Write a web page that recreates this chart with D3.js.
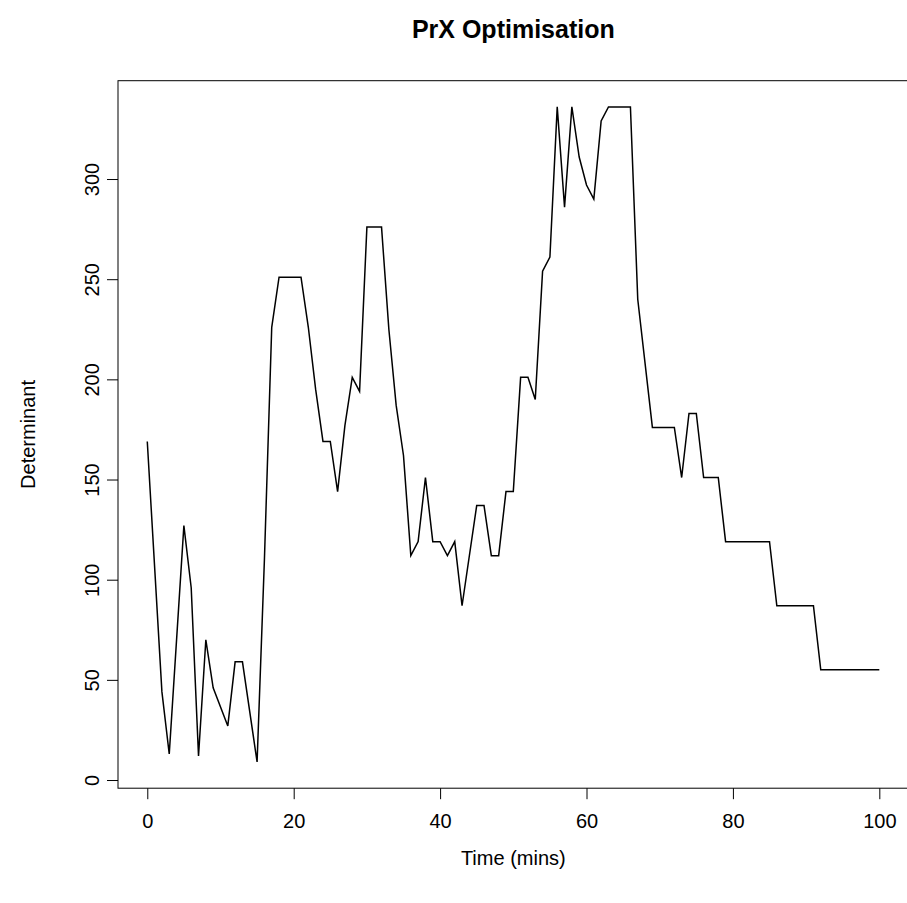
<!DOCTYPE html>
<html>
<head>
<meta charset="utf-8">
<script src="https://cdn.jsdelivr.net/npm/d3@7"></script>
<style>
  html, body { margin: 0; padding: 0; background: #fff; }
  svg text { font-family: "Liberation Sans", Arial, Helvetica, sans-serif; fill: #000; }
</style>
</head>
<body>
<svg id="chart" width="907" height="903"></svg>
<script>
'use strict';

// time (mins) of each vertex
var times = [0, 2, 3, 5, 6, 7, 8, 9, 11, 12,
	13, 15, 16, 17, 18, 21, 22, 23, 24, 25,
	26, 27, 28, 29, 30, 32, 33, 34, 35, 36,
	37, 38, 39, 40, 41, 42, 43, 45, 46, 47,
	48, 49, 50, 51, 52, 53, 54, 55, 56, 57,
	58, 59, 60, 61, 62, 63, 66, 67, 69, 72,
	73, 74, 75, 76, 78, 79, 85, 86, 91, 92,
	100];

// determinant at each vertex
var determinant = [169, 44, 13, 127, 96, 12, 70, 46, 27, 59,
	59, 9, 110, 226, 251, 251, 226, 195, 169, 169,
	144, 177, 201, 194, 276, 276, 225, 187, 162, 112,
	119, 151, 119, 119, 112, 119, 87, 137, 137, 112,
	112, 144, 144, 201, 201, 190, 254, 261, 336, 286,
	336, 311, 297, 290, 329, 336, 336, 240, 176, 176,
	151, 183, 183, 151, 151, 119, 119, 87, 87, 55,
	55];

var xTicks = [0, 20, 40, 60, 80, 100];
var yTicks = [0, 50, 100, 150, 200, 250, 300];

var title = 'PrX Optimisation';
var xLabel = 'Time (mins)';
var yLabel = 'Determinant';

// plot region (pixels)
var box = { left: 118, right: 908.6, top: 80.7, bottom: 788.2 };

// R style 4% expansion of the data range
function expand(ext) {
	var pad = (ext[1] - ext[0]) * 0.04;
	return [ext[0] - pad, ext[1] + pad];
}

var svg = d3.select('#chart');

var x = d3.scaleLinear()
	.domain(expand(d3.extent(times)))
	.range([box.left, box.right]);

var y = d3.scaleLinear()
	.domain(expand(d3.extent(determinant)))
	.range([box.bottom, box.top]);

var points = times.map(function (t, i) { return [t, determinant[i]]; });

// the series
svg.append('path')
	.datum(points)
	.attr('fill', 'none')
	.attr('stroke', '#000')
	.attr('stroke-width', 1.5)
	.attr('stroke-linejoin', 'miter')
	.attr('d', d3.line()
		.x(function (d) { return x(d[0]); })
		.y(function (d) { return y(d[1]); }));

// x axis
var gx = svg.append('g')
	.attr('transform', 'translate(0,' + box.bottom + ')')
	.call(d3.axisBottom(x).tickValues(xTicks).tickSize(11).tickSizeOuter(0).tickPadding(15));
gx.select('.domain').remove();
gx.selectAll('.tick line').attr('stroke', '#000');
gx.selectAll('.tick text')
	.attr('font-size', 20)
	.attr('fill', '#000');

// y axis, labels turned like R's las = 0
var gy = svg.append('g')
	.attr('transform', 'translate(' + box.left + ',0)')
	.call(d3.axisLeft(y).tickValues(yTicks).tickSize(11).tickSizeOuter(0));
gy.select('.domain').remove();
gy.selectAll('.tick line').attr('stroke', '#000');
gy.selectAll('.tick text')
	.attr('x', null)
	.attr('dy', null)
	.attr('text-anchor', 'middle')
	.attr('transform', 'translate(-19,0) rotate(-90)')
	.attr('font-size', 20)
	.attr('fill', '#000');

// frame
svg.append('rect')
	.attr('x', box.left)
	.attr('y', box.top)
	.attr('width', box.right - box.left)
	.attr('height', box.bottom - box.top)
	.attr('fill', 'none')
	.attr('stroke', '#000')
	.attr('stroke-width', 1);

// titles
svg.append('text')
	.attr('x', (box.left + box.right) / 2)
	.attr('y', 38)
	.attr('text-anchor', 'middle')
	.attr('font-size', 25)
	.attr('font-weight', 'bold')
	.text(title);

svg.append('text')
	.attr('x', (box.left + box.right) / 2)
	.attr('y', 865)
	.attr('text-anchor', 'middle')
	.attr('font-size', 20)
	.text(xLabel);

svg.append('text')
	.attr('transform', 'translate(35,' + (box.top + box.bottom) / 2 + ') rotate(-90)')
	.attr('text-anchor', 'middle')
	.attr('font-size', 20)
	.text(yLabel);
</script>
</body>
</html>
